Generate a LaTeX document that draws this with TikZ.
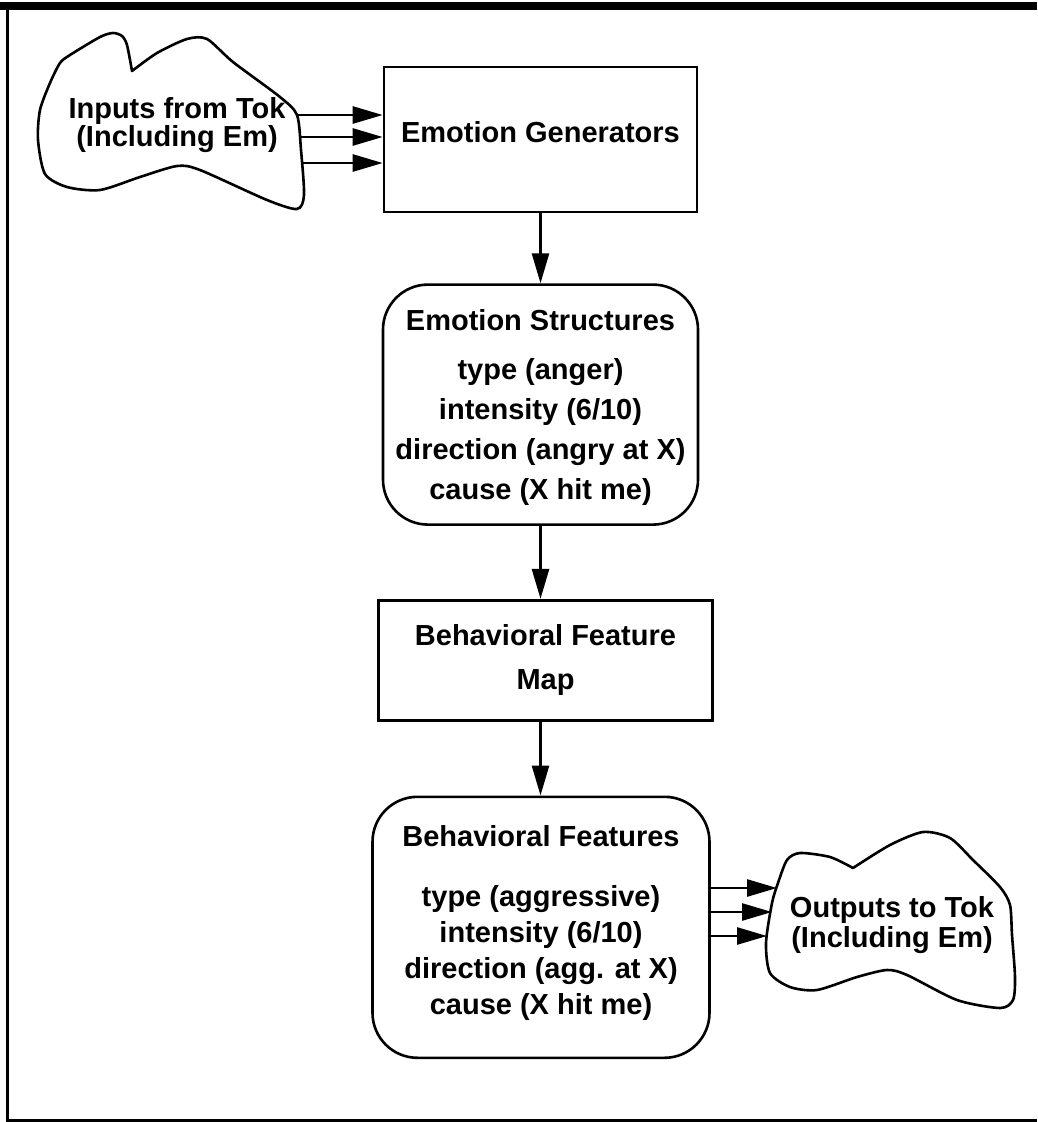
\documentclass[tikz,border=0pt]{standalone}
\usepackage{fontspec}
\setmainfont{Liberation Sans}
\usetikzlibrary{arrows.meta,positioning,calc}

\begin{document}
\begin{tikzpicture}[
    x=1pt, y=1pt,
    box/.style={
        rectangle, draw, line width=2.6pt, inner sep=0pt,
        align=center, font=\fontsize{29}{36}\selectfont\bfseries
    },
    roundbox/.style={box, rounded corners=45pt},
    cloudtext/.style={align=center, inner sep=0pt},
    outline/.style={line width=2.6pt, line join=round},
    arr/.style={line width=2.6pt, -{Triangle[length=30pt,width=17pt]}}
]

\useasboundingbox (0,0) rectangle (1037,-1122);

% frame
\fill (0,-2) rectangle (1037,-10);
\draw[line width=3pt] (7.5,-6) -- (7.5,-1120.5) -- (1037,-1120.5);

% main chain
\node[box, minimum width=313pt, minimum height=145pt, text depth=15pt] (gen) at (540.5,-139.5)
    {Emotion Generators};
\node[roundbox, minimum width=315pt, minimum height=240pt, text depth=0pt, below=70pt of gen] (structs)
    {Emotion Structures\\[13pt]
     type (anger)\\[4pt]
     intensity (6/10)\\[4pt]
     direction (angry at X)\\[4pt]
     cause (X hit me)};
\node[box, minimum width=334pt, minimum height=120pt, below=73pt of structs, xshift=5pt] (featmap)
    {Behavioral Feature\\[8pt] Map};
\node[roundbox, minimum width=337pt, minimum height=261pt, text depth=14pt, below=74pt of featmap, xshift=-4.5pt] (features)
    {Behavioral Features\\[24pt]
     type (aggressive)\\
     intensity (6/10)\\
     direction (agg. at X)\\
     cause (X hit me)};

% clouds
\node[cloudtext, font=\fontsize{29}{27}\selectfont\bfseries] (inputs) at (177,-125)
    {Inputs from Tok\\ (Including Em)};
\draw[outline] plot[smooth, tension=0.45] coordinates {
    (132,-71) (157,-53) (187,-39) (207,-39) (233,-62) (280,-97) (297,-115)
    (301,-150) (304,-195) (297,-209) (267,-200) (200,-170) (177,-166)
    (140,-177) (100,-190) (67,-187) (45,-174) (38,-140) (40,-110) (50,-83)
    (60,-63) (70,-55) (100,-37) (113,-33) (122,-36) (127,-45) (132,-71)} -- cycle;

\node[cloudtext, font=\fontsize{29}{30}\selectfont\bfseries] (outputs) at (892,-925)
    {Outputs to Tok\\ (Including Em)};
\draw[outline] plot[smooth, tension=0.45] coordinates {
    (853,-868) (890,-845) (923,-832) (950,-838) (973,-860) (1000,-887)
    (1010,-905) (1012,-935) (1015,-977) (1013,-1000) (1000,-1008) (957,-1000)
    (907,-975) (887,-970) (857,-977) (817,-990) (790,-987) (770,-973)
    (766,-943) (772,-903) (778,-883) (787,-860) (800,-853) (830,-857)
    (853,-868)} -- cycle;

% cloud edge points
\coordinate (in1) at (297,-115);
\coordinate (in2) at (300,-137);
\coordinate (in3) at (302,-163);
\coordinate (out1) at (777,-888);
\coordinate (out2) at (772,-912);
\coordinate (out3) at (767,-936);

% connectors
\foreach \p in {in1,in2,in3}
    \draw[arr] (\p) -- (\p -| gen.west);
\draw[arr] (gen.south) -- (structs.north);
\draw[arr] (structs.south) -- (structs.south |- featmap.north);
\draw[arr] (structs.south |- featmap.south) -- (structs.south |- features.north);
\foreach \p in {out1,out2,out3}
    \draw[arr] (features.east |- \p) -- (\p);

\end{tikzpicture}
\end{document}
